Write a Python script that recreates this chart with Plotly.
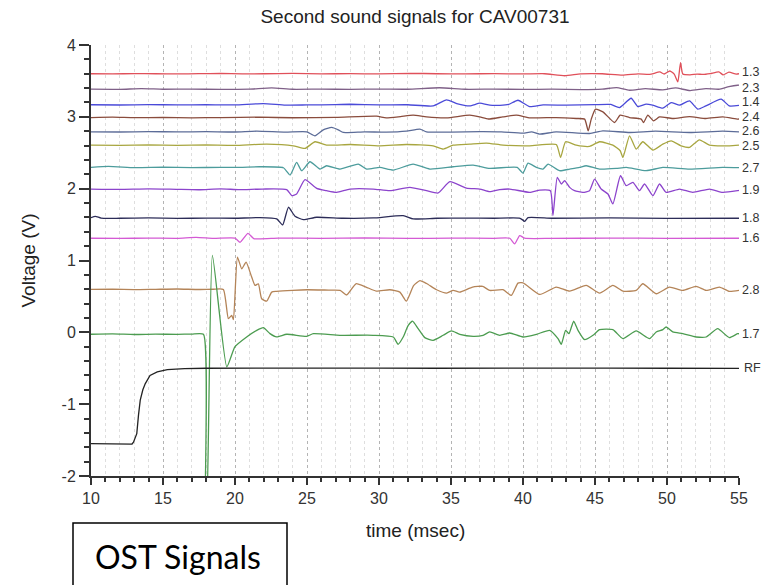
import plotly.graph_objects as go

TITLE = "Second sound signals for CAV00731"
X_TITLE = "time (msec)"
Y_TITLE = "Voltage (V)"
BOX_TEXT = "OST Signals"

X_TICKS = [10, 15, 20, 25, 30, 35, 40, 45, 50, 55]
Y_TICKS = [-2, -1, 0, 1, 2, 3, 4]
Y_TICK_TEXT = ["-2", "-1", "0", "1", "2", "3", "4"]

LABELS = ["1.3", "2.3", "1.4", "2.4", "2.6", "2.5", "2.7", "1.9", "1.8", "1.6", "2.8", "1.7", "RF"]
COLORS = ["#e0505a", "#7f6088", "#4a4ad8", "#8a4c3c", "#5c6c98", "#a8a640", "#4c9c9c",
          "#8c44cc", "#2c2c58", "#d45ad4", "#b48458", "#4c9c50", "#222222"]

T13 = [10, 11.5, 13, 14.5, 16, 17.5, 19, 20.5, 22, 24, 26, 28, 30, 32.2, 34, 36, 38, 40, 41.5, 42.9,
       44, 45.5, 46.9, 48, 48.8, 49.5, 49.8, 50.2, 50.5, 50.75, 50.94, 51.1, 51.6, 52.1, 52.5, 53.0,
       53.6, 53.9, 54.3, 54.8, 55]
V13 = [3.600, 3.598, 3.602, 3.600, 3.597, 3.601, 3.603, 3.598, 3.600, 3.604, 3.599, 3.601, 3.598,
       3.606, 3.600, 3.598, 3.601, 3.597, 3.600, 3.572, 3.598, 3.600, 3.580, 3.598, 3.590, 3.625,
       3.596, 3.638, 3.594, 3.486, 3.754, 3.595, 3.585, 3.595, 3.590, 3.602, 3.625, 3.585, 3.622,
       3.595, 3.600]

T23 = [10, 12, 13.5, 15, 17, 19, 21, 22.55, 24, 26, 28, 30, 32, 34.2, 36, 38, 40, 42, 44, 45.5,
       46.5, 47.4, 48.5, 49.7, 50.6, 51.6, 52.7, 53.6, 54.3, 54.9, 55]
V23 = [3.385, 3.383, 3.393, 3.384, 3.386, 3.382, 3.386, 3.402, 3.384, 3.386, 3.382, 3.387, 3.384,
       3.405, 3.384, 3.386, 3.382, 3.385, 3.380, 3.386, 3.407, 3.370, 3.393, 3.375, 3.402, 3.366,
       3.393, 3.384, 3.421, 3.44, 3.44]

T14 = [10, 12, 14, 16, 18, 20, 21.97, 23.5, 25, 27, 28, 30, 32, 33.76, 34.69, 35.4, 36.3, 37.0,
       37.7, 38.4, 39.0, 39.65, 40.46, 41.4, 43, 45, 46.1, 46.7, 47.51, 47.98, 48.55, 49.0, 49.71,
       50.29, 50.87, 51.56, 52.14, 52.7, 53.76, 54.33, 55]
V14 = [3.168, 3.165, 3.170, 3.166, 3.168, 3.166, 3.185, 3.163, 3.166, 3.170, 3.175, 3.166, 3.168,
       3.152, 3.236, 3.185, 3.152, 3.190, 3.162, 3.160, 3.172, 3.231, 3.143, 3.166, 3.162, 3.170,
       3.172, 3.129, 3.259, 3.143, 3.176, 3.162, 3.120, 3.199, 3.162, 3.222, 3.106, 3.152, 3.245,
       3.152, 3.160]

T24 = [10, 11.5, 13, 15, 17, 19, 21.7, 24, 27, 29.83, 30.5, 31.5, 32.37, 33.3, 34.7, 36.3, 37.0,
       37.6, 38.6, 39.54, 40.5, 42.3, 43.7, 44.28, 44.53, 44.74, 45.04, 45.55, 46.36, 46.75, 47.4,
       48.21, 48.37, 48.67, 49.06, 49.48, 50.4, 51.56, 52.7, 53.87, 54.91, 55]
V24 = [2.990, 2.995, 2.988, 2.992, 2.986, 2.990, 2.995, 2.987, 2.992, 3.009, 2.985, 3.004, 3.023,
       2.999, 2.985, 3.023, 2.999, 2.970, 2.999, 3.023, 2.986, 2.990, 2.977, 2.968, 2.805, 2.968,
       3.106, 3.069, 2.921, 3.023, 2.990, 2.968, 2.921, 3.023, 2.944, 2.999, 2.977, 3.004, 2.977,
       2.999, 2.968, 2.97]

T26 = [10, 12, 14, 16, 18, 20, 21.51, 23.5, 24.98, 25.55, 26.13, 26.71, 27.17, 27.52, 29, 30.5,
       31.9, 32.84, 33.3, 35, 37, 38.5, 40.0, 40.6, 41.16, 42.3, 44.62, 45.55, 47.4, 49.2, 51.56,
       53.87, 55]
V26 = [2.791, 2.789, 2.794, 2.790, 2.793, 2.789, 2.800, 2.787, 2.791, 2.736, 2.819, 2.852, 2.819,
       2.782, 2.791, 2.786, 2.800, 2.829, 2.791, 2.787, 2.793, 2.790, 2.773, 2.790, 2.759, 2.791,
       2.768, 2.805, 2.782, 2.800, 2.782, 2.800, 2.791]

T25 = [10, 12, 14, 16, 18, 20, 22.2, 24.05, 24.86, 25.56, 26.36, 28, 30.06, 31.9, 33.76, 34.46,
       35.15, 36.3, 37.46, 38.61, 40.46, 42.31, 42.61, 42.96, 43.7, 44.62, 45.32, 46.24, 46.75,
       46.94, 47.4, 47.86, 48.32, 49.02, 49.71, 50.29, 50.98, 51.56, 52.25, 52.95, 54.33, 55]
V25 = [2.606, 2.603, 2.610, 2.604, 2.608, 2.603, 2.620, 2.597, 2.560, 2.653, 2.606, 2.615, 2.597,
       2.615, 2.597, 2.551, 2.606, 2.620, 2.634, 2.606, 2.597, 2.615, 2.435, 2.653, 2.606, 2.588,
       2.653, 2.606, 2.528, 2.435, 2.736, 2.551, 2.653, 2.537, 2.620, 2.666, 2.597, 2.574, 2.680,
       2.606, 2.597, 2.606]

T27 = [10, 11.2, 13, 15, 17, 19, 20.35, 21.7, 23.36, 23.82, 24.28, 24.63, 25.21, 25.9, 26.36,
       27.29, 28.56, 29.14, 30.06, 30.99, 32.37, 33.53, 35.15, 36.54, 37.69, 38.85, 39.6, 40.0,
       40.35, 40.93, 41.39, 41.74, 42.54, 43.24, 43.93, 44.39, 45.32, 46.47, 47.17, 48.55, 49.71,
       51.56, 53.87, 55]
V27 = [2.296, 2.310, 2.294, 2.298, 2.293, 2.297, 2.296, 2.305, 2.291, 2.190, 2.366, 2.250, 2.375,
       2.273, 2.319, 2.273, 2.342, 2.273, 2.296, 2.259, 2.342, 2.273, 2.305, 2.328, 2.282, 2.296,
       2.296, 2.217, 2.356, 2.296, 2.273, 2.342, 2.250, 2.273, 2.296, 2.319, 2.273, 2.282, 2.296,
       2.250, 2.296, 2.273, 2.296, 2.292]

T19 = [10, 12, 14, 16, 17.5, 19, 20.3, 21.9, 23.59, 23.94, 24.28, 24.86, 25.67, 26.36, 27.06,
       27.98, 29.6, 30.76, 32.14, 33.3, 34.11, 34.92, 36.07, 37.0, 37.69, 38.38, 39.08, 40.46,
       41.16, 41.9, 42.08, 42.38, 42.66, 42.89, 43.24, 43.58, 44.16, 44.62, 44.97, 45.43, 45.9,
       46.24, 46.77, 47.17, 47.63, 48.09, 48.44, 49.02, 49.48, 49.94, 50.87, 51.79, 52.95, 53.87,
       54.91, 55]
V19 = [1.995, 1.990, 1.998, 1.990, 1.985, 1.998, 1.986, 1.995, 1.986, 1.903, 1.926, 2.125, 2.004,
       1.972, 1.949, 1.995, 1.995, 1.972, 2.018, 1.972, 1.940, 2.097, 2.009, 1.995, 1.958, 1.986,
       1.995, 1.949, 1.981, 1.972, 1.625, 2.157, 2.065, 2.111, 2.018, 1.972, 1.949, 1.972, 2.134,
       1.995, 1.926, 1.787, 2.180, 2.041, 2.088, 1.972, 2.065, 1.903, 2.065, 1.949, 1.995, 1.949,
       1.995, 1.949, 1.972, 1.975]

T18 = [10, 10.3, 10.7, 12, 14, 16, 18, 20, 21.7, 22.9, 23.31, 23.71, 24.17, 24.75, 25.67, 27.5,
       29.6, 31.68, 32.37, 34, 36, 38, 39.8, 40.12, 40.35, 42, 46, 50, 55]
V18 = [1.595, 1.615, 1.590, 1.588, 1.592, 1.587, 1.590, 1.588, 1.597, 1.579, 1.495, 1.741, 1.616,
       1.569, 1.602, 1.588, 1.592, 1.625, 1.579, 1.588, 1.590, 1.588, 1.588, 1.546, 1.597, 1.588,
       1.592, 1.586, 1.588]

T16 = [10, 12, 14, 16, 17.3, 18.5, 20.0, 20.35, 20.9, 21.3, 23, 26, 29, 32, 35, 38, 39.08, 39.42,
       39.77, 40.12, 42, 46, 50, 55]
V16 = [1.310, 1.308, 1.312, 1.309, 1.322, 1.308, 1.312, 1.254, 1.379, 1.305, 1.312, 1.309, 1.313,
       1.308, 1.311, 1.309, 1.310, 1.231, 1.347, 1.310, 1.308, 1.312, 1.309, 1.310]

T28 = [10, 11.5, 13, 14.5, 16, 17.5, 18.5, 19.19, 19.54, 19.77, 19.89, 20.17, 20.47, 20.77, 21.16,
       21.39, 21.62, 21.85, 22.2, 22.55, 22.89, 24, 25, 26.5, 27.3, 27.75, 28.4, 29.1, 29.8, 30.75,
       31.45, 31.9, 32.4, 32.84, 33.3, 34.0, 34.7, 35.15, 35.6, 36.5, 37.2, 37.69, 38.61, 39.19,
       39.65, 40.0, 41.16, 42.31, 43.24, 44.39, 45.32, 46.24, 46.94, 47.86, 48.32, 49.25, 50.17,
       51.1, 52.02, 52.72, 53.64, 54.33, 55]
V28 = [0.597, 0.600, 0.594, 0.599, 0.603, 0.596, 0.600, 0.597, 0.190, 0.236, 0.176, 1.047, 0.884,
       0.977, 0.769, 0.653, 0.676, 0.468, 0.435, 0.560, 0.570, 0.585, 0.593, 0.588, 0.585, 0.520,
       0.676, 0.630, 0.575, 0.593, 0.560, 0.435, 0.650, 0.720, 0.680, 0.593, 0.547, 0.583, 0.560,
       0.630, 0.640, 0.583, 0.593, 0.514, 0.685, 0.690, 0.528, 0.630, 0.574, 0.653, 0.546, 0.653,
       0.574, 0.583, 0.676, 0.537, 0.630, 0.583, 0.639, 0.583, 0.630, 0.570, 0.585]

T17 = [10, 11.5, 13, 14.5, 16, 17.0, 17.81, 17.95, 18.0, 18.43, 19.43, 20.0, 20.81, 21.51, 21.97,
       22.43, 22.89, 23.59, 24.98, 25.44, 27.29, 29.6, 30.99, 31.33, 31.68, 32.03, 32.33, 32.72,
       33.18, 33.76, 34.46, 35.03, 35.61, 36.54, 37.23, 37.69, 38.38, 39.08, 40.0, 40.93, 41.85,
       42.43, 42.66, 42.96, 43.19, 43.52, 43.82, 44.28, 44.86, 45.32, 46.24, 46.94, 47.86, 48.79,
       49.25, 49.71, 49.94, 50.4, 51.1, 52.02, 52.72, 53.52, 54.33, 54.91, 55]
V17 = [-0.027, -0.022, -0.030, -0.025, -0.028, -0.024, -0.027, -2.6, -2.6, 1.070, -0.480, -0.200,
       -0.064, 0.028, 0.065, -0.018, -0.064, -0.027, -0.055, -0.019, -0.041, -0.041, -0.065,
       -0.166, -0.065, 0.097, 0.157, 0.051, -0.074, -0.111, -0.041, 0.019, -0.028, -0.055, -0.041,
       0.005, -0.041, -0.009, -0.065, -0.028, 0.028, -0.088, -0.166, 0.028, -0.019, 0.157, 0.028,
       -0.102, -0.041, 0.037, 0.037, -0.088, 0.019, -0.088, 0.005, 0.037, 0.074, 0.005, -0.019,
       -0.065, -0.065, 0.051, -0.074, -0.019, -0.02]

TRF = [10, 11, 12, 12.85, 12.95, 13.05, 13.18, 13.3, 13.42, 13.6, 13.77, 14.1, 14.6, 15.3, 16.5,
       18, 22, 26, 30, 34, 38, 42, 46, 50, 55]
VRF = [-1.548, -1.552, -1.553, -1.555, -1.53, -1.47, -1.41, -1.15, -0.944, -0.80, -0.713, -0.60,
       -0.55, -0.52, -0.505, -0.50, -0.497, -0.50, -0.497, -0.50, -0.496, -0.50, -0.498, -0.50,
       -0.502]

SERIES_T = [T13, T23, T14, T24, T26, T25, T27, T19, T18, T16, T28, T17, TRF]
SERIES_V = [V13, V23, V14, V24, V26, V25, V27, V19, V18, V16, V28, V17, VRF]
# small vertical nudges (px, positive = up) of the end labels so that they do not collide
LABEL_SHIFT = [2, -3, 3, 2, 1, -1, 0, 0, 0, 0, 0, 0, 0]

# plot area in pixels
W, H = 761, 585
L, R, T, B = 91, 739, 45, 476
PW, PH = R - L, B - T


def px(x):
    return (x - L) / PW


def py(y):
    return (B - y) / PH


FONT = "Liberation Sans, Arial, sans-serif"

fig = go.Figure()
for name, t, v, c in zip(LABELS, SERIES_T, SERIES_V, COLORS):
    shape = "linear" if name in ("RF",) else "spline"
    fig.add_trace(go.Scatter(x=t, y=v, mode="lines", name=name,
                             line=dict(color=c, width=1.3, shape=shape, smoothing=0.5),
                             showlegend=False))

annotations = []
for name, v, sh in zip(LABELS, SERIES_V, LABEL_SHIFT):
    annotations.append(dict(x=55, y=v[-1], xref="x", yref="y", text=name, showarrow=False,
                            xanchor="left", yanchor="middle", xshift=(3 if name == "RF" else 1),
                            yshift=sh, font=dict(family=FONT, size=12.5, color="#333333")))

annotations.append(dict(x=0.5, y=py(530), xref="paper", yref="paper", text=X_TITLE,
                        showarrow=False, xanchor="center", yanchor="middle",
                        font=dict(family=FONT, size=19, color="#222222")))
annotations.append(dict(x=px(28), y=0.5, xref="paper", yref="paper", text=Y_TITLE,
                        showarrow=False, xanchor="center", yanchor="middle", textangle=-90,
                        font=dict(family=FONT, size=19, color="#222222")))
annotations.append(dict(x=px(178), y=py(556), xref="paper", yref="paper", text=BOX_TEXT,
                        showarrow=False, xanchor="center", yanchor="middle",
                        font=dict(family="Lato, Carlito, sans-serif", size=32, color="#000000")))

shapes = [dict(type="rect", xref="paper", yref="paper", x0=px(73), x1=px(287),
               y0=py(590), y1=py(523), line=dict(color="#000000", width=1.5),
               fillcolor="rgba(0,0,0,0)", layer="above")]

fig.update_layout(
    width=W, height=H,
    margin=dict(l=L, r=W - R, t=T, b=H - B, pad=0),
    paper_bgcolor="white", plot_bgcolor="white",
    title=dict(text=TITLE, x=0.5, xref="paper", y=1 - 16 / H, yref="container",
               xanchor="center", yanchor="middle",
               font=dict(family=FONT, size=19, color="#222222")),
    annotations=annotations,
    shapes=shapes,
    showlegend=False,
)

fig.update_xaxes(
    range=[10, 55], tickvals=X_TICKS, ticktext=[str(v) for v in X_TICKS],
    showline=True, linecolor="#333333", linewidth=2,
    ticks="outside", ticklen=7, tickwidth=2, tickcolor="#333333",
    tickfont=dict(family=FONT, size=16, color="#333333"),
    showgrid=True, gridcolor="#b4b4b4", griddash="dot", gridwidth=1,
    zeroline=False,
    minor=dict(dtick=1, tick0=10, ticks="outside", ticklen=4, tickwidth=1.5,
               tickcolor="#333333", showgrid=True, gridcolor="#dedede", griddash="dot"),
)
fig.update_yaxes(
    range=[-2, 4], tickvals=Y_TICKS, ticktext=Y_TICK_TEXT,
    showline=True, linecolor="#333333", linewidth=2,
    ticks="outside", ticklen=10, tickwidth=2, tickcolor="#333333",
    tickfont=dict(family=FONT, size=16, color="#333333"),
    showgrid=False, zeroline=False,
    minor=dict(dtick=0.2, tick0=0, ticks="outside", ticklen=5, tickwidth=1.5,
               tickcolor="#333333", showgrid=False),
)

fig.write_html("out.html")
